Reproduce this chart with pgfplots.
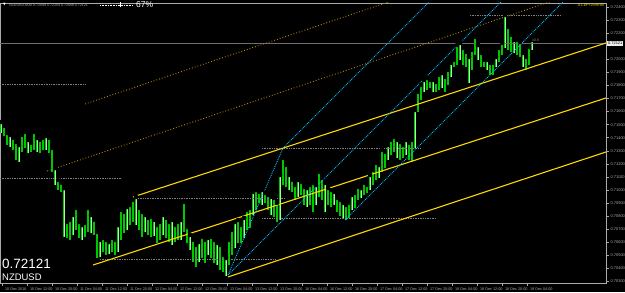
\documentclass[border=0pt]{standalone}
\usepackage{fontspec}
\setmainfont{Liberation Sans}
\newfontfamily\dejavu{DejaVu Sans}
\usepackage{pgfplots}
\usepackage{pgfplotstable}
\pgfplotsset{compat=1.18}
\definecolor{candleA}{RGB}{0,200,0}
\definecolor{candleB}{RGB}{160,255,160}
\definecolor{ylw}{RGB}{255,215,0}
\definecolor{sky}{RGB}{0,191,255}
\definecolor{gold}{RGB}{184,134,11}
\definecolor{grayl}{RGB}{128,128,128}
\definecolor{axgray}{RGB}{170,170,170}

\pgfplotstableread{
x h l
1 0.71520 0.71436
4 0.71490 0.71413
7 0.71436 0.71344
10 0.71421 0.71329
13 0.71398 0.71306
16 0.71367 0.71230
19 0.71344 0.71214
22 0.71421 0.71291
25 0.71444 0.71321
28 0.71383 0.71283
31 0.71360 0.71291
34 0.71444 0.71306
37 0.71398 0.71291
40 0.71383 0.71283
43 0.71398 0.71306
46 0.71413 0.71306
49 0.71398 0.71283
52 0.71321 0.71138
55 0.71168 0.71038
58 0.71077 0.71000
61 0.71054 0.70985
64 0.71015 0.70641
67 0.70755 0.70633
70 0.70771 0.70618
73 0.70809 0.70656
76 0.70862 0.70694
79 0.70755 0.70633
82 0.70732 0.70618
85 0.70748 0.70641
88 0.70862 0.70679
91 0.70809 0.70671
94 0.70771 0.70656
97 0.70679 0.70480
100 0.70618 0.70488
103 0.70633 0.70526
106 0.70618 0.70503
109 0.70602 0.70510
112 0.70633 0.70526
115 0.70618 0.70503
118 0.70732 0.70526
121 0.70847 0.70618
124 0.70832 0.70671
127 0.70870 0.70694
130 0.70885 0.70732
133 0.70924 0.70755
136 0.70947 0.70732
139 0.70862 0.70694
142 0.70832 0.70641
145 0.70809 0.70679
148 0.70786 0.70656
151 0.70794 0.70641
154 0.70771 0.70648
157 0.70732 0.70595
160 0.70755 0.70618
163 0.70809 0.70656
166 0.70786 0.70633
169 0.70755 0.70602
172 0.70771 0.70579
175 0.70732 0.70602
178 0.70755 0.70618
181 0.70771 0.70618
184 0.70908 0.70679
187 0.70717 0.70595
190 0.70656 0.70541
193 0.70618 0.70449
196 0.70579 0.70411
199 0.70602 0.70449
202 0.70641 0.70480
205 0.70618 0.70442
208 0.70633 0.70503
211 0.70641 0.70480
214 0.70618 0.70442
217 0.70595 0.70426
220 0.70579 0.70388
223 0.70503 0.70373
226 0.70480 0.70342
229 0.70618 0.70426
232 0.70694 0.70503
235 0.70755 0.70556
238 0.70771 0.70595
241 0.70732 0.70595
244 0.70786 0.70633
247 0.70847 0.70694
250 0.70862 0.70709
253 0.70985 0.70809
256 0.71000 0.70847
259 0.70985 0.70901
262 0.71000 0.70885
265 0.70977 0.70901
268 0.70962 0.70847
271 0.70947 0.70809
274 0.70939 0.70794
277 0.70901 0.70755
280 0.71115 0.70771
283 0.71245 0.71038
286 0.71191 0.71023
289 0.71115 0.71000
292 0.71077 0.70985
295 0.71038 0.70924
298 0.71077 0.70947
301 0.71061 0.70962
304 0.71023 0.70885
307 0.71015 0.70870
310 0.71038 0.70885
313 0.71054 0.70832
316 0.71038 0.70885
319 0.71138 0.70947
322 0.71092 0.70924
325 0.71054 0.70832
328 0.71015 0.70885
331 0.71000 0.70870
334 0.70985 0.70885
337 0.70939 0.70832
340 0.70924 0.70801
343 0.70901 0.70786
346 0.70885 0.70771
349 0.70901 0.70786
352 0.70962 0.70847
355 0.70977 0.70862
358 0.71023 0.70924
361 0.71015 0.70939
364 0.71054 0.70962
367 0.71038 0.70977
370 0.71115 0.71000
373 0.71153 0.71038
376 0.71207 0.71077
379 0.71191 0.71092
382 0.71306 0.71138
385 0.71291 0.71168
388 0.71344 0.71230
391 0.71383 0.71268
394 0.71406 0.71291
397 0.71383 0.71245
400 0.71367 0.71230
403 0.71344 0.71245
406 0.71383 0.71268
409 0.71360 0.71230
412 0.71383 0.71214
415 0.71612 0.71321
418 0.71750 0.71597
421 0.71803 0.71689
424 0.71842 0.71750
427 0.71857 0.71765
430 0.71842 0.71780
433 0.71842 0.71750
436 0.71826 0.71750
439 0.71880 0.71765
442 0.71895 0.71780
445 0.71865 0.71750
448 0.71918 0.71803
451 0.71972 0.71865
454 0.71995 0.71941
457 0.72109 0.71956
460 0.72125 0.71995
463 0.72086 0.71956
466 0.72056 0.71941
469 0.72018 0.71819
472 0.72071 0.71918
475 0.72171 0.72033
478 0.72109 0.71995
481 0.72048 0.71941
484 0.71995 0.71941
487 0.71995 0.71918
490 0.71972 0.71880
493 0.71972 0.71880
496 0.72018 0.71941
499 0.72086 0.71979
502 0.72125 0.72033
505 0.72339 0.72086
508 0.72247 0.72071
511 0.72186 0.72056
514 0.72148 0.72048
517 0.72148 0.72033
520 0.72132 0.72018
523 0.72048 0.71941
526 0.72018 0.71918
529 0.72094 0.71956
532 0.72148 0.72071
}\bars

\begin{document}
\begin{tikzpicture}[x=1bp,y=1bp]
\fill[black] (0,-9) rectangle (625,283);
\begin{axis}[
  at={(0,0)}, anchor=south west,
  width=606bp, height=280bp, scale only axis,
  xmin=0, xmax=606, ymin=0.702886, ymax=0.724306,
  axis background/.style={fill=black},
  axis line style={draw=axgray, line width=0.6bp},
  ytick={0.703,0.704,0.705,0.706,0.707,0.708,0.709,0.710,0.711,0.712,0.713,0.714,0.715,0.716,0.717,0.718,0.719,0.720,0.722,0.723,0.724},
  ytick pos=right, yticklabel pos=right,
  xtick pos=bottom,
  xtick={2,27,52,77,102,127,152,177,202,227,252,277,302,327,352,377,402,427,452,477,502,527},
  xticklabels={10 Dec 2016,10 Dec 12:00,10 Dec 20:00,11 Dec 04:00,11 Dec 12:00,11 Dec 20:00,12 Dec 04:00,12 Dec 12:00,12 Dec 20:00,13 Dec 04:00,13 Dec 12:00,13 Dec 20:00,16 Dec 04:00,16 Dec 12:00,16 Dec 20:00,17 Dec 04:00,17 Dec 12:00,17 Dec 20:00,18 Dec 04:00,18 Dec 12:00,18 Dec 20:00,19 Dec 04:00},
  tick align=outside, major tick length=2.5bp,
  tick style={draw=axgray, line width=0.5bp},
  scaled y ticks=false,
  /pgf/number format/assume math mode=true,
  yticklabel style={font=\fontsize{4}{4}\selectfont, text=axgray, anchor=west, xshift=-1.5bp,
    /pgf/number format/.cd, fixed, fixed zerofill, precision=5},
  xticklabel style={font=\fontsize{3.8}{4}\selectfont, text=axgray, anchor=north west, xshift=-0.5bp, yshift=1.5bp},
  clip=true,
]
% candles
\addplot[only marks, mark=none, forget plot, error bars/.cd, y dir=minus, y explicit, error mark=none,
  error bar style={draw=candleA, line width=1.9bp}]
  table[x=x, y=h, y error minus expr={\thisrow{h}-\thisrow{l}}] {\bars};
\addplot[only marks, mark=none, forget plot, each nth point=3, error bars/.cd, y dir=minus, y explicit, error mark=none,
  error bar style={draw=candleB, line width=0.7bp}]
  table[x=x, y=h, y error minus expr={\thisrow{h}-\thisrow{l}}] {\bars};

% current price line
\addplot[draw={rgb,255:red,110;green,110;blue,110}, line width=1bp] coordinates {(0,0.72121) (606,0.72121)};

% gray dotted horizontal levels
\addplot[grayl, densely dotted, line width=0.7bp] coordinates {(0,0.71811) (86,0.71811)};
\addplot[grayl, densely dotted, line width=0.7bp] coordinates {(0,0.71092) (122,0.71092)};
\addplot[grayl, densely dotted, line width=0.7bp] coordinates {(262,0.71321) (420,0.71321)};
\addplot[grayl, densely dotted, line width=0.7bp] coordinates {(133,0.70939) (285,0.70939)};
\addplot[grayl, densely dotted, line width=0.7bp] coordinates {(262,0.70786) (436,0.70786)};
\addplot[grayl, densely dotted, line width=0.7bp] coordinates {(100,0.70472) (275,0.70472)};
\addplot[grayl, densely dotted, line width=0.7bp] coordinates {(470,0.72339) (560,0.72339)};

% gold dotted lines
\addplot[gold, dotted, line width=0.9bp] coordinates {(47,0.71145) (606,0.72584)};
\addplot[gold, dotted, line width=0.9bp] coordinates {(85,0.71658) (606,0.72997)};

% yellow channel
\addplot[ylw, line width=1.1bp] coordinates {(133,0.70947) (606,0.72125)};
\addplot[ylw, line width=1.1bp] coordinates {(93,0.70426) (606,0.71704)};
\addplot[ylw, line width=1.1bp] coordinates {(228,0.70335) (606,0.71291)};

% blue lines
\addplot[sky, densely dotted, line width=0.9bp] coordinates {(228,0.70350) (283,0.71321)};
\addplot[sky, densely dotted, line width=0.9bp] coordinates {(283,0.71321) (460,0.72675)};
\addplot[sky, densely dotted, line width=0.9bp] coordinates {(228,0.70350) (530,0.72660)};
\addplot[sky, densely dotted, line width=0.9bp] coordinates {(345,0.70771) (606,0.72767)};
\end{axis}

% header
\node[anchor=west, inner sep=0, text=white, font=\dejavu\fontsize{3.5}{4}\selectfont] at (3,278) {▼};
\node[anchor=west, inner sep=0, text=axgray, font=\fontsize{3.6}{4}\selectfont] at (9,278) {NZDUSD,M30 0.72099 0.72154 0.72068 0.72121};
\draw[white, densely dotted, line width=0.6bp] (100,278) -- (133,278);
\draw[white, line width=0.6bp] (120,275.5) -- (120,280.5);
\node[anchor=west, inner sep=0, text=white, font=\fontsize{8.5}{9}\selectfont] at (136,278) {67\%};
% right label
\node[anchor=east, inner sep=0, text=ylw, font=\fontsize{3.6}{4}\selectfont] at (604,278) {A.CEP+25HR99};
\node[anchor=west, inner sep=0, text=grayl, font=\fontsize{3.6}{4}\selectfont] at (532,243) {10.8};
% price box
\node[anchor=west, fill=white!85!gray, text=black, inner xsep=0.8bp, inner ysep=0.6bp, font=\fontsize{4}{4}\selectfont] at (607,239.5) {0.72121};
% bottom-left big labels
\node[anchor=base west, inner sep=0, text=white, font=\fontsize{13.5}{14}\selectfont] at (2,15) {0.72121};
\node[anchor=base west, inner sep=0, text=white, font=\fontsize{9.5}{10}\selectfont] at (2,3) {NZDUSD};
\pgfresetboundingbox
\path (0,-9) rectangle (625,283);
\end{tikzpicture}
\end{document}
